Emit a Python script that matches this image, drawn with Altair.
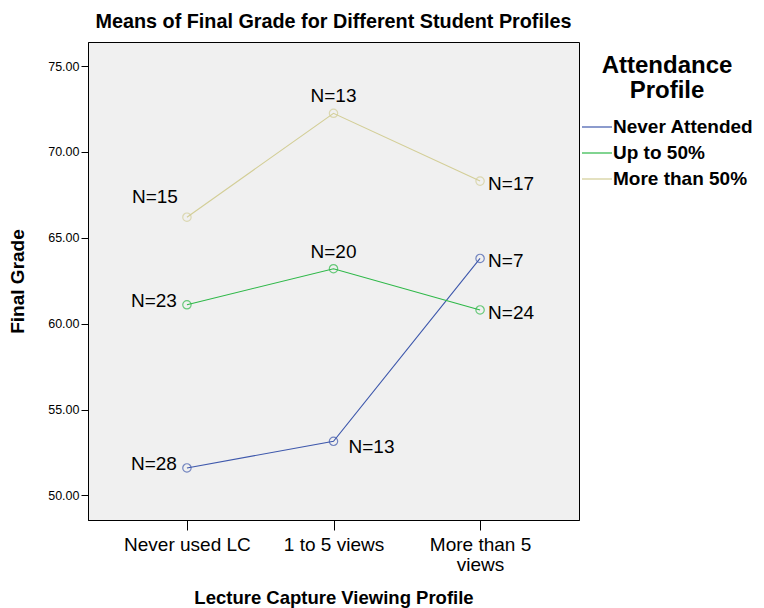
import altair as alt
import pandas as pd

categories = ["Never used LC", "1 to 5 views", "More than 5 views"]
groups = ["Never Attended", "Up to 50%", "More than 50%"]
colors = ["#3E58AC", "#2EB848", "#D3CE97"]

means_never = [51.6, 53.15, 63.8]
means_up50 = [61.1, 63.2, 60.8]
means_more50 = [66.2, 72.25, 68.3]

n_never = [28, 13, 7]
n_up50 = [23, 20, 24]
n_more50 = [15, 13, 17]

# label placement (style) per point
place_never = ["left", "rightlow", "right"]
place_up50 = ["left", "top", "right"]
place_more50 = ["lefthigh", "top", "right"]

rows = []
for g, means, ns, places in [
    ("Never Attended", means_never, n_never, place_never),
    ("Up to 50%", means_up50, n_up50, place_up50),
    ("More than 50%", means_more50, n_more50, place_more50),
]:
    for c, m, n, p in zip(categories, means, ns, places):
        rows.append({"cat": c, "group": g, "mean": m, "label": f"N={n}", "place": p})
df = pd.DataFrame(rows)

FONT = "Liberation Sans"

x = alt.X(
    "cat:N",
    sort=categories,
    scale=alt.Scale(type="point", padding=0.675),
    axis=alt.Axis(
        title="Lecture Capture Viewing Profile",
        labelAngle=0,
        labelFontSize=19,
        labelColor="black",
        labelFont=FONT,
        labelPadding=5,
        labelLineHeight=20,
        labelExpr="datum.label == 'More than 5 views' ? ['More than 5', 'views'] : datum.label",
        tickSize=10,
        tickColor="black",
        domainColor="black",
        titleFont=FONT,
        titleFontSize=18.5,
        titleFontWeight="bold",
        titleColor="black",
        titlePadding=14,
        grid=False,
    ),
)
y = alt.Y(
    "mean:Q",
    scale=alt.Scale(domain=[48.57, 76.4], nice=False, zero=False),
    axis=alt.Axis(
        title="Final Grade",
        values=[50, 55, 60, 65, 70, 75],
        format=".2f",
        labelFontSize=12.5,
        labelColor="black",
        labelFont=FONT,
        labelPadding=2,
        tickSize=7,
        tickColor="black",
        domainColor="black",
        titleFont=FONT,
        titleFontSize=19,
        titleFontWeight="bold",
        titleColor="black",
        titlePadding=20,
        grid=False,
    ),
)
color = alt.Color(
    "group:N",
    sort=groups,
    scale=alt.Scale(domain=groups, range=colors),
    legend=alt.Legend(
        title=["Attendance", "Profile"],
        titleFont=FONT,
        titleFontSize=24,
        titleFontWeight="bold",
        titleColor="black",
        titleLineHeight=25,
        titleAnchor="middle",
        titlePadding=8,
        labelFont=FONT,
        labelFontSize=19,
        labelFontWeight="bold",
        labelColor="black",
        labelOffset=0,
        labelLimit=200,
        symbolType="stroke",
        symbolSize=900,
        symbolStrokeWidth=1.2,
        rowPadding=-2.5,
        orient="none",
        legendX=493,
        legendY=12,
    ),
)

base = alt.Chart(df)
lines = base.mark_line(strokeWidth=1.1).encode(x=x, y=y, color=color, detail="group:N")
points = base.mark_point(shape="circle", filled=False, size=70, strokeWidth=1.2).encode(
    x=x, y=y, color=alt.Color("group:N", scale=alt.Scale(domain=groups, range=colors), legend=None)
)

offsets = {
    "left": dict(align="right", dx=-10, dy=-4),
    "lefthigh": dict(align="right", dx=-9, dy=-20),
    "top": dict(align="center", dx=0, dy=-17),
    "right": dict(align="left", dx=8, dy=3),
    "rightlow": dict(align="left", dx=15, dy=6),
}
texts = []
for p, o in offsets.items():
    texts.append(
        base.transform_filter(alt.datum.place == p)
        .mark_text(font=FONT, fontSize=19, color="black", baseline="middle", **o)
        .encode(x=x, y=y, text="label:N")
    )

chart = (
    alt.layer(lines, points, *texts)
    .properties(
        width=491,
        height=478,
        title=alt.TitleParams(
            "Means of Final Grade for Different Student Profiles",
            font=FONT,
            fontSize=19.8,
            fontWeight="bold",
            color="black",
            anchor="middle",
            offset=10,
        ),
        autosize=alt.AutoSizeParams(type="none"),
        padding={"left": 80, "top": 34, "right": 177, "bottom": 88},
    )
    .configure(background="white")
    .configure_view(fill="#f0f0f0", stroke="black", strokeWidth=1)
)

chart.save("out.html", embed_options={"renderer": "svg", "actions": False})
